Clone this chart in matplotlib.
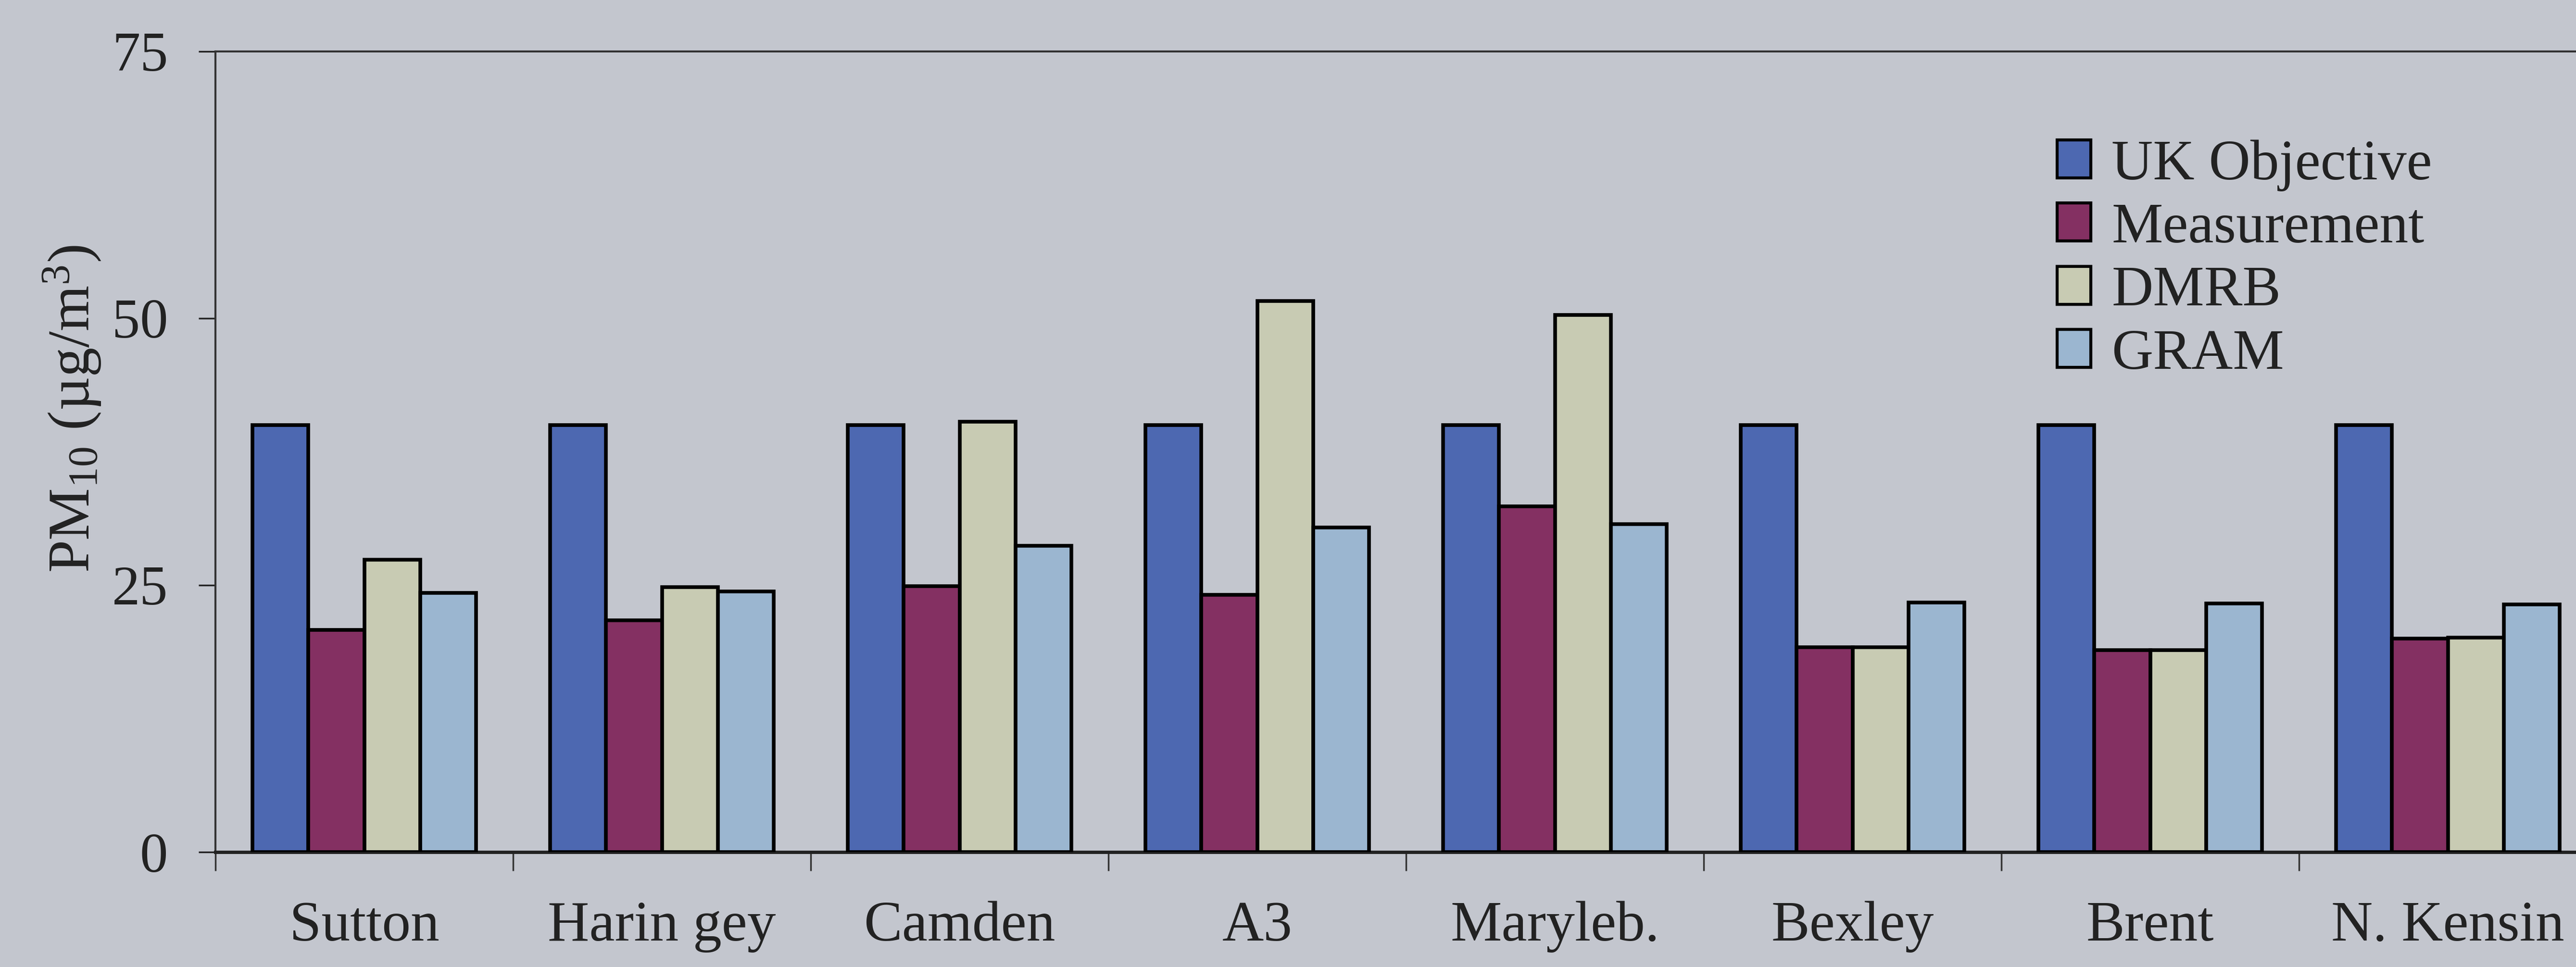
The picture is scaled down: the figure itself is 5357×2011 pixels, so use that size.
import numpy as np
import matplotlib
matplotlib.use("Agg")
import matplotlib.pyplot as plt
from matplotlib.ticker import FixedLocator, NullFormatter

plt.rcParams.update({
    "font.family": ["Liberation Serif", "DejaVu Serif"],
    "mathtext.fontset": "custom",
    "mathtext.rm": "Liberation Serif",
    "mathtext.it": "Liberation Serif:italic",
})

# PM10 annual means per site (ug/m3)
SITES = ["Sutton", "Harin gey", "Camden", "A3", "Maryleb.", "Bexley", "Brent", "N. Kensin"]
SERIES = ["UK Objective", "Measurement", "DMRB", "GRAM"]
uk_objective = [40, 40, 40, 40, 40, 40, 40, 40]
measurement = [20.8, 21.7, 24.9, 24.1, 32.4, 19.2, 18.9, 20.0]
dmrb = [27.4, 24.8, 40.3, 51.6, 50.3, 19.2, 18.9, 20.1]
gram = [24.3, 24.4, 28.7, 30.4, 30.7, 23.4, 23.3, 23.2]

COLORS = ["#4d68b1", "#843062", "#c8cbb3", "#9bb6d0"]
BG = "#c3c6ce"
INK = "#222222"

W, H, DPI = 5357, 2011, 100
fig = plt.figure(figsize=(W / DPI, H / DPI), dpi=DPI, facecolor=BG)
# axes box in pixels: left 448, right 5400 (runs off the page), top 107, bottom 1772
ax = fig.add_axes([448 / W, 1 - 1772 / H, (5400 - 448) / W, (1772 - 107) / H])
ax.set_facecolor(BG)

x = np.arange(len(SITES))
bw = 0.1875
for i, (name, vals) in enumerate(zip(SERIES, [uk_objective, measurement, dmrb, gram])):
    ax.bar(x + (i - 1.5) * bw, vals, bw, color=COLORS[i],
           edgecolor="black", linewidth=5.5, label=name, zorder=3)

ax.set_xlim(-0.5, len(SITES) - 0.5)
ax.set_ylim(0, 75)
ax.set_yticks([0, 25, 50, 75])
ax.tick_params(axis="y", labelsize=84, length=25, width=2.5, pad=46,
               direction="out", colors=INK)

ax.xaxis.set_major_locator(FixedLocator(x))
ax.set_xticklabels(SITES)
ax.xaxis.set_minor_locator(FixedLocator(np.arange(len(SITES) + 1) - 0.5))
ax.xaxis.set_minor_formatter(NullFormatter())
ax.tick_params(axis="x", which="major", length=0, labelsize=86, pad=73,
               colors=INK)
ax.tick_params(axis="x", which="minor", length=28, width=2.5, direction="out",
               color="#333333")

for side in ["left", "top"]:
    ax.spines[side].set_linewidth(3)
    ax.spines[side].set_color("#333333")
ax.spines["bottom"].set_linewidth(5)
ax.spines["bottom"].set_color(INK)
ax.spines["right"].set_visible(False)

fig.text(150 / W, 1 - 850 / H, "PM$_{10}$ (\u00b5g/m$^{3}$)", rotation=90,
         ha="center", va="center", fontsize=88, color=INK)

leg = ax.legend(loc="upper left", bbox_to_anchor=(4278 / W, 1 - 290 / H),
                bbox_transform=fig.transFigure, frameon=False, fontsize=86,
                handlelength=0.59, handleheight=0.64, handletextpad=0.36,
                labelspacing=0.2, borderpad=0, borderaxespad=0)
for t in leg.get_texts():
    t.set_color(INK)
for p in leg.get_patches():
    p.set_linewidth(4.5)

fig.savefig("out.png", dpi=DPI, facecolor=BG)
